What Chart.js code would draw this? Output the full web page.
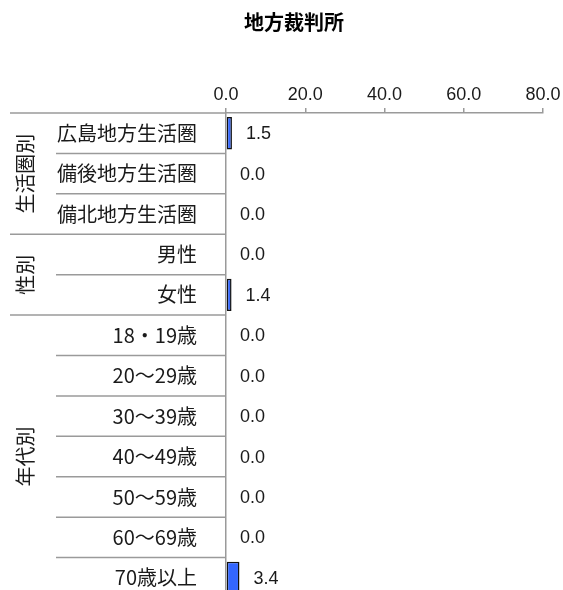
<!DOCTYPE html>
<html>
<head>
<meta charset="utf-8">
<script src="https://cdn.jsdelivr.net/npm/chart.js@4"></script>
<style>
  html, body { margin: 0; padding: 0; background: #fff; overflow: hidden; }
  #chart { display: block; }
</style>
</head>
<body>
<canvas id="chart" width="563" height="600" style="width:563px;height:600px"></canvas>
<script>
"use strict";

const TITLE = "地方裁判所";
const CATEGORIES = [
  "広島地方生活圏", "備後地方生活圏", "備北地方生活圏",
  "男性", "女性",
  "18・19歳", "20～29歳", "30～39歳", "40～49歳", "50～59歳", "60～69歳", "70歳以上",
];
const VALUES = [1.5, 0.0, 0.0, 0.0, 1.4, 0.0, 0.0, 0.0, 0.0, 0.0, 0.0, 3.4];
const GROUPS = [
  { label: "生活圏別", from: 0, to: 2 },
  { label: "性別", from: 3, to: 4 },
  { label: "年代別", from: 5, to: 11 },
];
const X_TICKS = [0, 20, 40, 60, 80];

const FONT = "'Noto Sans CJK JP', sans-serif";
const NUM_FONT = "'Liberation Sans', Arial, sans-serif";
const GRID = "#9a9a9a";
const TEXT = "#1a1a1a";

const overlay = {
  id: "overlay",
  afterDraw(chart) {
    const { ctx, chartArea } = chart;
    const y = chart.scales.y;
    const rowHalf = (y.getPixelForValue(1) - y.getPixelForValue(0)) / 2;
    ctx.save();

    // title
    ctx.fillStyle = "#000";
    ctx.font = `bold 20px ${FONT}`;
    ctx.textAlign = "center";
    ctx.textBaseline = "middle";
    ctx.fillText(TITLE, 294, 22);

    // separator lines left of the axis
    ctx.strokeStyle = GRID;
    ctx.lineWidth = 1.5;
    ctx.beginPath();
    ctx.moveTo(10, chartArea.top);
    ctx.lineTo(chartArea.left, chartArea.top);
    const groupEnds = GROUPS.map((g) => g.to);
    for (let i = 0; i < CATEGORIES.length - 1; i++) {
      const py = y.getPixelForValue(i) + rowHalf;
      const x0 = groupEnds.includes(i) ? 10 : 56;
      ctx.moveTo(x0, py);
      ctx.lineTo(chartArea.left, py);
    }
    ctx.stroke();

    // group labels
    ctx.fillStyle = TEXT;
    ctx.font = `20px ${FONT}`;
    for (const g of GROUPS) {
      const top = y.getPixelForValue(g.from) - rowHalf;
      const bottom = y.getPixelForValue(g.to) + rowHalf;
      ctx.save();
      ctx.translate(25, (top + bottom) / 2);
      ctx.rotate(-Math.PI / 2);
      ctx.textAlign = "center";
      ctx.textBaseline = "middle";
      ctx.fillText(g.label, 0, 0);
      ctx.restore();
    }

    // value labels
    const meta = chart.getDatasetMeta(0);
    ctx.font = `18px ${NUM_FONT}`;
    ctx.textAlign = "left";
    ctx.textBaseline = "middle";
    meta.data.forEach((bar, i) => {
      ctx.fillText(VALUES[i].toFixed(1), bar.x + 14, bar.y + 1);
    });
    ctx.restore();
  },
};

new Chart(document.getElementById("chart"), {
  type: "bar",
  data: {
    labels: CATEGORIES,
    datasets: [{
      data: VALUES,
      backgroundColor: "#3366ff",
      borderColor: "#111",
      borderWidth: 1.5,
      borderSkipped: false,
      barPercentage: 0.8,
      categoryPercentage: 1,
    }],
  },
  options: {
    indexAxis: "y",
    responsive: false,
    animation: false,
    devicePixelRatio: 1,
    layout: { padding: { top: 0, right: 20, bottom: 2, left: 0 } },
    plugins: { legend: { display: false }, title: { display: false }, tooltip: { enabled: false } },
    scales: {
      x: {
        position: "top",
        min: 0,
        max: 80,
        afterFit: (s) => { s.height = 113; s.paddingLeft = 0; s.paddingRight = 0; },
        afterBuildTicks: (s) => { s.ticks = X_TICKS.map((v) => ({ value: v })); },
        ticks: {
          color: TEXT,
          font: { family: NUM_FONT, size: 18 },
          padding: 2,
          maxRotation: 0,
          callback: (v) => Number(v).toFixed(1),
        },
        grid: { drawOnChartArea: false, drawTicks: true, tickLength: 5, color: GRID, lineWidth: 1.5 },
        border: { display: true, color: GRID, width: 1.5 },
      },
      y: {
        afterFit: (s) => { s.width = 226; s.paddingTop = 0; s.paddingBottom = 0; },
        ticks: { color: TEXT, font: { family: FONT, size: 20 }, padding: 21, autoSkip: false },
        grid: { display: false },
        border: { display: true, color: GRID, width: 1.5 },
      },
    },
  },
  plugins: [overlay],
});
</script>
</body>
</html>
